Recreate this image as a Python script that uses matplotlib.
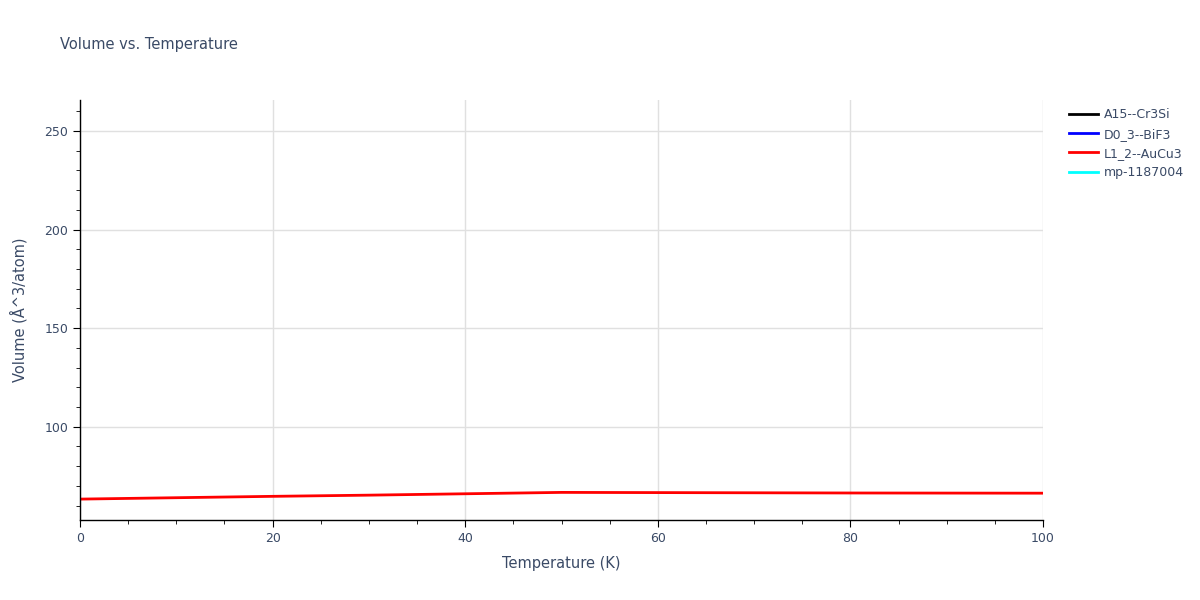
import numpy as np
import matplotlib
matplotlib.use('Agg')
import matplotlib.pyplot as plt
from matplotlib.ticker import MultipleLocator

# Datos
temperatura = [0, 10, 20, 30, 40, 50, 60, 70, 80, 90, 100]
volumen_l12 = [63.3, 64.0, 64.7, 65.3, 66.0, 66.7, 66.6, 66.5, 66.4, 66.35, 66.3]

series = ['A15--Cr3Si', 'D0_3--BiF3', 'L1_2--AuCu3', 'mp-1187004']
colores = ['black', 'blue', 'red', 'cyan']

texto = '#3a4a66'
rejilla = '#e0e0e0'

fig = plt.figure(figsize=(12, 6), dpi=100)
ax = fig.add_axes([80 / 1200, 80 / 600, 963 / 1200, 420 / 600])

for nombre, color in zip(series, colores):
    if nombre == 'L1_2--AuCu3':
        ax.plot(temperatura, volumen_l12, color=color, lw=2, label=nombre)
    else:
        ax.plot([], [], color=color, lw=2, label=nombre)

ax.set_xlim(0, 100)
ax.set_ylim(52.7, 265.7)
ax.xaxis.set_minor_locator(MultipleLocator(5))
ax.yaxis.set_minor_locator(MultipleLocator(10))
ax.set_xticks([0, 20, 40, 60, 80, 100])
ax.set_yticks([100, 150, 200, 250])

ax.grid(True, which='major', color=rejilla, lw=1)
ax.set_axisbelow(True)
for lado in ['top', 'right']:
    ax.spines[lado].set_visible(False)
for lado in ['left', 'bottom']:
    ax.spines[lado].set_color('black')
    ax.spines[lado].set_linewidth(1)

ax.tick_params(which='major', direction='out', length=5, color='black',
               labelsize=9, labelcolor=texto)
ax.tick_params(which='minor', direction='out', length=3, color='black')

ax.set_xlabel('Temperature (K)', fontsize=10.5, color=texto, labelpad=8)
ax.set_ylabel('Volume (Å^3/atom)', fontsize=10.5, color=texto, labelpad=12)

fig.text(60 / 1200, 1 - 45 / 600, 'Volume vs. Temperature', fontsize=10.5,
         color=texto, va='center', ha='left')

ax.legend(loc='upper left', bbox_to_anchor=(1.022, 0.992), frameon=False,
          fontsize=9, labelcolor=texto, handlelength=2.3, handletextpad=0.45,
          labelspacing=0.5, borderaxespad=0)

fig.savefig('out.png', dpi=100)
